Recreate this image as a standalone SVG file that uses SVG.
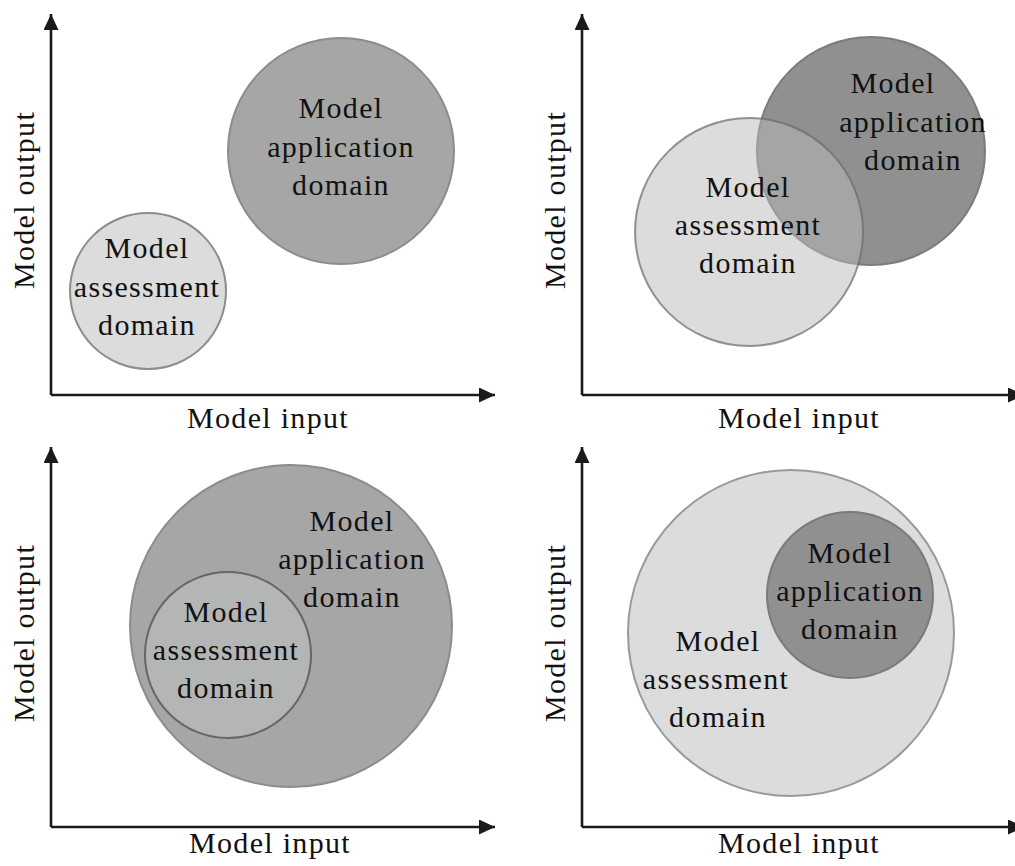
<svg xmlns="http://www.w3.org/2000/svg" width="1015" height="866" viewBox="0 0 1015 866">
<style>
text{font-family:"Liberation Serif","Times New Roman",serif;font-size:30px;fill:#111;text-anchor:middle;letter-spacing:1.3px}
.ax{stroke:#1a1a1a;stroke-width:2.6;fill:none}
.light{fill:#dcdcdc;stroke:#8c8c8c;stroke-width:2}
.dark{fill:#a6a6a6;stroke:#8c8c8c;stroke-width:2}
</style>
<defs>
<marker id="ah" markerUnits="userSpaceOnUse" markerWidth="18" markerHeight="16" refX="16" refY="7.5" orient="auto">
<path d="M0,0 L16,7.5 L0,15 Z" fill="#1a1a1a"/>
</marker>
</defs>
<rect width="1015" height="866" fill="#fff"/>

<g id="connectors">
<path class="ax" d="M51,395 V14" marker-end="url(#ah)"/>
<path class="ax" d="M51,395 H495" marker-end="url(#ah)"/>
<path class="ax" d="M582,395 V14" marker-end="url(#ah)"/>
<path class="ax" d="M582,395 H1024" marker-end="url(#ah)"/>
<path class="ax" d="M51,827 V447" marker-end="url(#ah)"/>
<path class="ax" d="M51,827 H495" marker-end="url(#ah)"/>
<path class="ax" d="M582,827 V447" marker-end="url(#ah)"/>
<path class="ax" d="M582,827 H1024" marker-end="url(#ah)"/>
</g>

<g id="axis-labels">
<text x="268" y="428">Model input</text>
<text x="799" y="428">Model input</text>
<text x="270" y="853">Model input</text>
<text x="799" y="853">Model input</text>
<text transform="translate(34,200) rotate(-90)">Model output</text>
<text transform="translate(565,200) rotate(-90)">Model output</text>
<text transform="translate(34,633) rotate(-90)">Model output</text>
<text transform="translate(565,633) rotate(-90)">Model output</text>
</g>

<!-- Panel 1 -->
<g id="p1-application">
<circle class="dark" cx="341" cy="151" r="113"/>
<text x="341" y="118">Model</text>
<text x="341" y="157">application</text>
<text x="341" y="195">domain</text>
</g>
<g id="p1-assessment">
<circle class="light" cx="148" cy="291" r="78"/>
<text x="147" y="258">Model</text>
<text x="147" y="297">assessment</text>
<text x="147" y="335">domain</text>
</g>

<!-- Panel 2 -->
<g id="p2-application">
<circle cx="871" cy="151" r="114" fill="#909090" stroke="#7c7c7c" stroke-width="2"/>
</g>
<g id="p2-assessment">
<circle cx="749" cy="232" r="114" fill="rgb(185,185,185)" fill-opacity="0.5" stroke="#6a6a6a" stroke-opacity="0.7" stroke-width="2"/>
<text x="748" y="197">Model</text>
<text x="748" y="235">assessment</text>
<text x="748" y="273">domain</text>
</g>
<g id="p2-application-label">
<text x="893" y="93">Model</text>
<text x="913" y="132">application</text>
<text x="913" y="170">domain</text>
</g>

<!-- Panel 3 -->
<g id="p3-application">
<circle class="dark" cx="291" cy="626" r="161"/>
<text x="352" y="531">Model</text>
<text x="352" y="569">application</text>
<text x="352" y="607">domain</text>
</g>
<g id="p3-assessment">
<circle cx="228" cy="655" r="83" fill="#b4b6b6" stroke="#666" stroke-width="2"/>
<text x="226" y="622">Model</text>
<text x="226" y="660">assessment</text>
<text x="226" y="698">domain</text>
</g>

<!-- Panel 4 -->
<g id="p4-assessment">
<circle cx="791" cy="633" r="163" fill="#dcdcdc" stroke="#999" stroke-width="2"/>
<text x="718" y="651">Model</text>
<text x="716" y="689">assessment</text>
<text x="718" y="727">domain</text>
</g>
<g id="p4-application">
<circle cx="850" cy="595" r="83" fill="#909090" stroke="#7a7a7a" stroke-width="2"/>
<text x="850" y="563">Model</text>
<text x="850" y="601">application</text>
<text x="850" y="639">domain</text>
</g>
</svg>
